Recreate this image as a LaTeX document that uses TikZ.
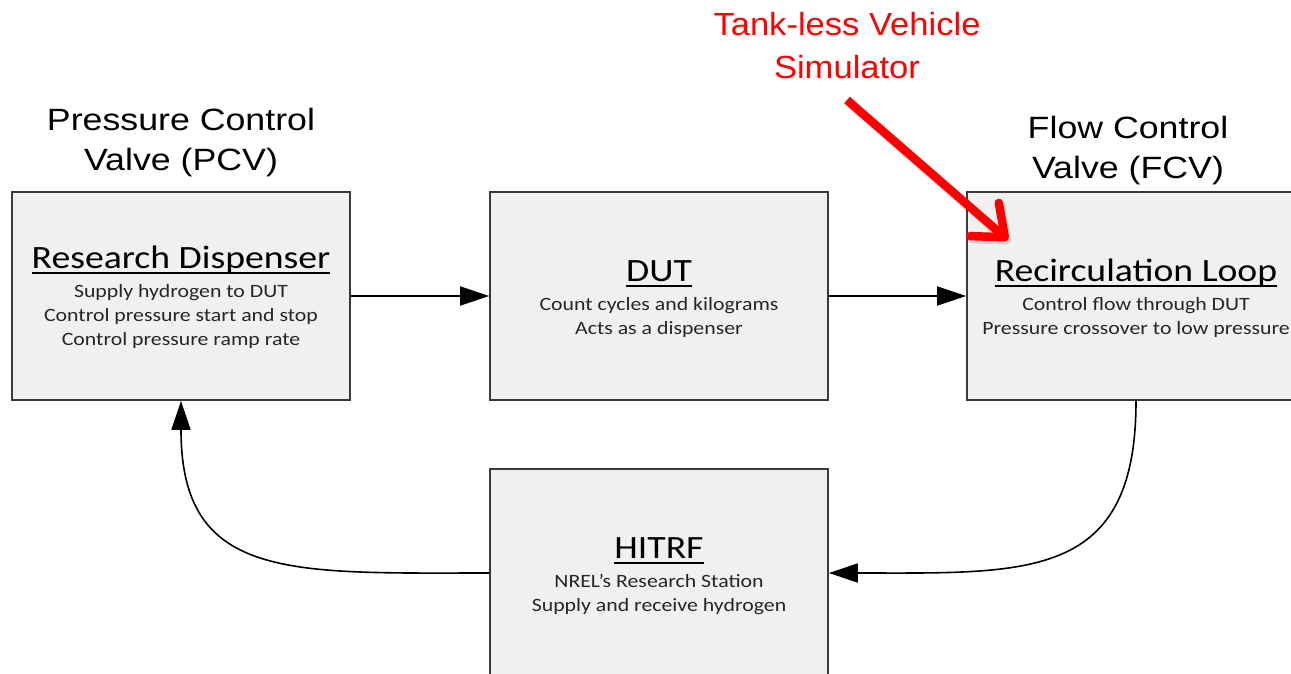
\documentclass[tikz,border=0pt]{standalone}
\usepackage{fontspec}
\setmainfont{Liberation Sans}
\newfontfamily\lblfont{Liberation Sans}[FakeStretch=1.16]
\newfontfamily\redfont{Liberation Sans}[FakeStretch=1.08]
\newfontfamily\boxfont{Carlito}[FakeStretch=1.16]
\usetikzlibrary{arrows.meta}
\definecolor{boxfill}{HTML}{F0F0F0}
\definecolor{boxline}{HTML}{3A3A3A}
\definecolor{bodytext}{HTML}{262626}
\definecolor{callred}{HTML}{FF0000}
% underlined block title
\newcommand\ttlline[1]{\setbox0\hbox{#1}\rlap{\rule[-5.5pt]{\wd0}{2pt}}\box0}
\tikzset{
  blockbox/.style={draw=boxline, fill=boxfill, line width=1.6pt,
    minimum width=338pt, minimum height=208pt, inner sep=0pt},
  blocktitle/.style={anchor=base, inner sep=0pt,
    font=\boxfont\fontsize{32.5}{36}\selectfont},
  blockbody/.style={anchor=base, inner sep=0pt, align=center, text=bodytext,
    font=\boxfont\fontsize{18.8}{24}\selectfont},
  valvelabel/.style={anchor=base, inner sep=0pt, align=center,
    font=\lblfont\fontsize{30.8}{40}\selectfont},
  redlabel/.style={anchor=base, inner sep=0pt, align=center, text=callred,
    font=\redfont\fontsize{32}{43}\selectfont},
  flow/.style={line width=1.6pt, -{Triangle[length=29pt,width=19pt]}},
  callout/.style={draw=callred, line width=8.5pt,
    -{Straight Barb[length=27pt,width=44pt,round]}},
  calloutshadow/.style={callout, draw=black, opacity=0.12},
}
\begin{document}
\begin{tikzpicture}[x=1pt,y=-1pt]
\useasboundingbox (0,0) rectangle (1291,673);
\clip (0,0) rectangle (1291,673);

% process blocks
\node[blockbox] (rd) at (181,296) {};
\node[blockbox] (dut) at (659,296) {};
\node[blockbox] (rl) at (1136,296) {};
\node[blockbox] (hitrf) at (659,573) {};

% block texts (multi-line nodes sit on the baseline of their last line)
\node[blocktitle] (rdT) at (181,268) {\ttlline{Research Dispenser}};
\node[blockbody] (rdB) at (181,345) {Supply hydrogen to DUT\\Control pressure start and stop\\Control pressure ramp rate};
\node[blocktitle] (dutT) at (659,281) {\ttlline{DUT}};
\node[blockbody] (dutB) at (659,334) {Count cycles and kilograms\\Acts as a dispenser};
\node[blocktitle] (rlT) at (1136,281) {\ttlline{Recirculation Loop}};
\node[blockbody] (rlB) at (1136,334) {Control flow through DUT\\Pressure crossover to low pressure};
\node[blocktitle] (hiT) at (659,558) {\ttlline{HITRF}};
\node[blockbody] (hiB) at (659,611) {NREL’s Research Station\\Supply and receive hydrogen};

% valve labels
\node[valvelabel] (pcv) at (181,170) {Pressure Control\\Valve (PCV)};
\node[valvelabel] (fcv) at (1128,178) {Flow Control\\Valve (FCV)};

% flow connectors
\draw[flow] (rd.east) -- (dut.west);
\draw[flow] (dut.east) -- (rl.west);
\draw[flow] (rl.south) .. controls +(0,180) and +(200,0) .. (hitrf.east);
\draw[flow] (hitrf.west) .. controls +(-200,0) and +(0,180) .. (rd.south);

% callout with a soft drop shadow
\node[redlabel] (tvs) at (847,78) {Tank-less Vehicle\\Simulator};
\coordinate (cs) at (847,100);
\coordinate (ct) at (1008,240);
\coordinate (css) at (849,103);
\coordinate (cts) at (1010,243);
\draw[calloutshadow] (css) -- (cts);
\draw[callout] (cs) -- (ct);
\end{tikzpicture}
\end{document}
